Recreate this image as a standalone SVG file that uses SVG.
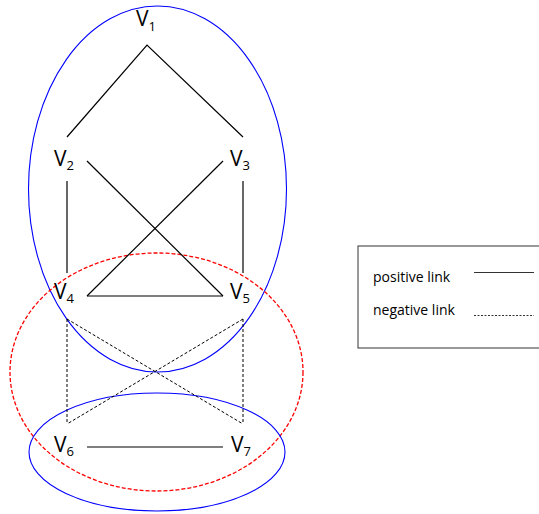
<svg xmlns="http://www.w3.org/2000/svg" width="539" height="514" viewBox="0 0 539 514">
<style>
.lbl{font-family:"Open Sans","Liberation Sans",sans-serif;font-size:21px;fill:#000}
.sub{font-size:13px}
.pos{stroke:#000;stroke-width:1.2;fill:none}
.neg{stroke:#000;stroke-width:1;stroke-dasharray:3,2;fill:none}
.grp{stroke:#0000ff;stroke-width:1.1;fill:none}
.red{stroke:#ff0000;stroke-width:1.3;stroke-dasharray:4,2;fill:none}
.leg{font-family:"Open Sans","Liberation Sans",sans-serif;font-size:14px;fill:#000}
</style>
<rect width="539" height="514" fill="#fff"/>
<g id="groups">
<ellipse class="grp" cx="157.5" cy="189" rx="129" ry="183"/>
<ellipse class="red" cx="156.5" cy="372" rx="146.5" ry="119"/>
<ellipse class="grp" cx="157" cy="452" rx="128" ry="59"/>
</g>
<g id="connectors">
<polyline class="pos" points="67,137 147,45 243,137"/>
<line class="pos" x1="87" y1="161" x2="223" y2="296"/>
<line class="pos" x1="223" y1="161" x2="87" y2="296"/>
<line class="pos" x1="87" y1="296" x2="223" y2="296"/>
<line class="pos" x1="67" y1="181" x2="67" y2="273"/>
<line class="pos" x1="243" y1="181" x2="243" y2="273"/>
<line class="neg" x1="67" y1="319" x2="67" y2="424"/>
<line class="neg" x1="243" y1="319" x2="243" y2="424"/>
<line class="neg" x1="67" y1="319" x2="243" y2="424"/>
<line class="neg" x1="243" y1="319" x2="67" y2="424"/>
<line class="pos" x1="87" y1="447" x2="223" y2="447"/>
</g>
<g id="v1"><text class="lbl" x="136" y="26">V<tspan class="sub" dy="5">1</tspan></text></g>
<g id="v2"><text class="lbl" x="54" y="166">V<tspan class="sub" dy="4">2</tspan></text></g>
<g id="v3"><text class="lbl" x="230" y="166">V<tspan class="sub" dy="4">3</tspan></text></g>
<g id="v4"><text class="lbl" x="54" y="299">V<tspan class="sub" dy="4">4</tspan></text></g>
<g id="v5"><text class="lbl" x="230" y="299">V<tspan class="sub" dy="4">5</tspan></text></g>
<g id="v6"><text class="lbl" x="54" y="452">V<tspan class="sub" dy="4">6</tspan></text></g>
<g id="v7"><text class="lbl" x="231" y="452">V<tspan class="sub" dy="4">7</tspan></text></g>
<g id="legend">
<rect x="358" y="246" width="200" height="102" fill="none" stroke="#333" stroke-width="1"/>
<text class="leg" x="373" y="282">positive link</text>
<line x1="474" y1="272.5" x2="534" y2="272.5" stroke="#333" stroke-width="1.2"/>
<text class="leg" x="373" y="315">negative link</text>
<line x1="474" y1="315.5" x2="534" y2="315.5" stroke="#333" stroke-width="1" stroke-dasharray="2,1.5"/>
</g>
</svg>
